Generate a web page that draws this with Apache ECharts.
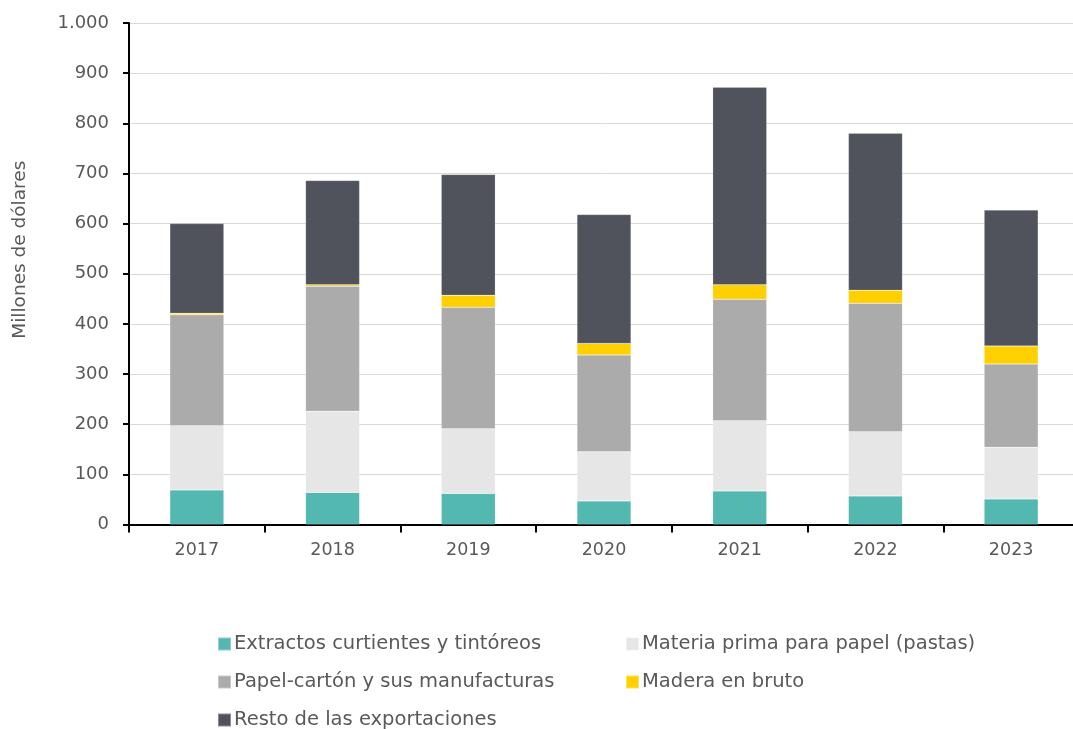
<!DOCTYPE html>
<html>
<head>
<meta charset="utf-8">
<script src="https://cdn.jsdelivr.net/npm/echarts@6/dist/echarts.min.js"></script>
<style>
  html, body { margin: 0; padding: 0; background: #fff; }
  #chart { width: 1073px; height: 729px; }
</style>
</head>
<body>
<div id="chart"></div>
<script>
const years = ['2017', '2018', '2019', '2020', '2021', '2022', '2023'];
const extractos = [69, 64, 62, 47, 67, 57, 51];
const pastas = [128, 162, 129, 98, 140, 128, 103];
const papel = [221, 249, 242, 193, 242, 256, 166];
const madera = [3, 3, 24, 23, 29, 26, 36];
const resto = [179, 208, 241, 257, 394, 313, 271];

const names = [
  'Extractos curtientes y tintóreos',
  'Materia prima para papel (pastas)',
  'Papel-cartón y sus manufacturas',
  'Madera en bruto',
  'Resto de las exportaciones'
];
const colors = ['#52b8b0', '#e6e6e6', '#ababab', '#ffd000', '#50535c'];
const values = [extractos, pastas, papel, madera, resto];

const FONT = '"DejaVu Sans", sans-serif';
const TXT = '#595959';

const chart = echarts.init(document.getElementById('chart'));

// one legend per item so the two columns line up like the original
const legendPos = [[212, 629], [620, 629], [212, 667], [620, 667], [212, 705]];
const legends = names.map((n, i) => ({
  data: [n],
  left: legendPos[i][0],
  top: legendPos[i][1],
  itemWidth: 13,
  itemHeight: 13,
  icon: 'rect',
  selectedMode: false,
  textStyle: { fontFamily: FONT, fontSize: 19.5, color: TXT, padding: [0, 0, 0, -2] }
}));

chart.setOption({
  animation: false,
  grid: { left: 129, width: 950, top: 23, bottom: 204.5, outerBoundsMode: 'none', containLabel: false },
  legend: legends,
  xAxis: {
    type: 'category',
    data: years,
    axisLine: { lineStyle: { color: '#000', width: 2 } },
    axisTick: { show: true, inside: false, length: 8, lineStyle: { color: '#000', width: 2 } },
    axisLabel: { fontFamily: FONT, fontSize: 17.5, color: TXT, margin: 17 }
  },
  yAxis: {
    type: 'value',
    min: 0,
    max: 1000,
    interval: 100,
    name: 'Millones de dólares',
    nameLocation: 'middle',
    nameGap: 99,
    nameRotate: 90,
    nameTextStyle: { fontFamily: FONT, fontSize: 18.5, color: TXT, padding: [0, 0, 0, 48] },
    axisLine: { show: true, lineStyle: { color: '#000', width: 2 } },
    axisTick: { show: true, length: 6, lineStyle: { color: '#000', width: 2 } },
    axisLabel: {
      fontFamily: FONT, fontSize: 18, color: TXT, margin: 20,
      formatter: v => v >= 1000 ? (v / 1000) + '.' + String(v % 1000).padStart(3, '0') : String(v)
    },
    splitLine: { lineStyle: { color: '#d9d9d9', width: 1 } }
  },
  series: names.map((n, i) => ({
    name: n,
    type: 'bar',
    stack: 'total',
    barWidth: 54,
    data: values[i],
    itemStyle: { color: colors[i], borderColor: 'rgba(255,255,255,0.35)', borderWidth: 0.5 }
  }))
});
</script>
</body>
</html>
